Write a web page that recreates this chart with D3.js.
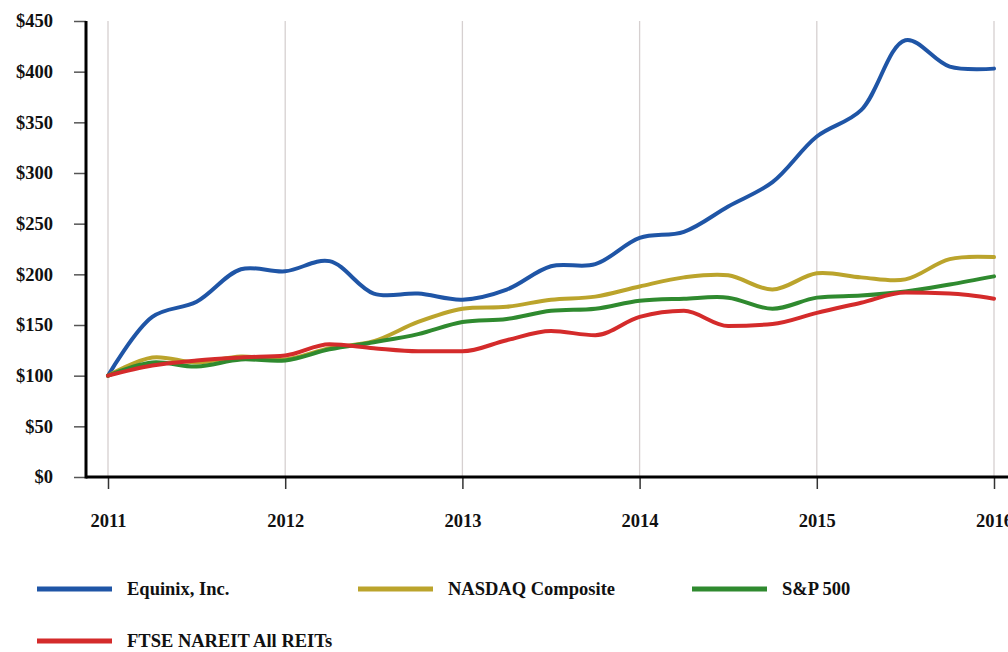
<!DOCTYPE html>
<html>
<head>
<meta charset="utf-8">
<script src="https://cdn.jsdelivr.net/npm/d3@7"></script>
<style>
  body { margin: 0; background: #fff; }
  text { font-family: "Liberation Serif", "Times New Roman", serif; font-weight: bold; fill: #111; }
</style>
</head>
<body>
<svg id="chart" width="1008" height="652"></svg>
<script>
// quarterly points, 2011.0 -> 2016.0
var quarters = d3.range(0, 21).map(function (i) { return 2011 + i / 4; });
var years = [2011, 2012, 2013, 2014, 2015, 2016];
var yTicks = [0, 50, 100, 150, 200, 250, 300, 350, 400, 450];

var equinix = [100, 158, 173, 205, 203, 213, 181, 181, 175, 185, 208, 210, 236, 242, 267, 291, 336, 362, 431, 405, 403];
var nasdaq  = [100, 118, 113, 119, 116, 127, 134, 153, 166, 168, 175, 178, 188, 197, 199, 185, 201, 197, 195, 215, 217];
var sp500   = [100, 113, 109, 116, 115, 126, 133, 141, 153, 156, 164, 166, 174, 176, 177, 166, 177, 179, 183, 190, 198];
var reits   = [100, 110, 115, 118, 120, 131, 127, 124, 124, 135, 144, 140, 158, 164, 149, 151, 162, 172, 182, 181, 176];

var series = [
  { name: 'Equinix, Inc.', values: equinix, color: '#1f55a6', curve: d3.curveCatmullRom },
  { name: 'NASDAQ Composite', values: nasdaq, color: '#bba42c', curve: d3.curveCatmullRom },
  { name: 'S&P 500', values: sp500, color: '#2f8a2f', curve: d3.curveCatmullRom },
  { name: 'FTSE NAREIT All REITs', values: reits, color: '#d42b2b', curve: d3.curveMonotoneX }
];

var svg = d3.select('#chart');

var x = d3.scaleLinear().domain([2011, 2016]).range([108, 994]);
var y = d3.scaleLinear().domain([0, 450]).range([477, 21]);

//-------------------------GRID---------------------------------------
svg.append('g').selectAll('line')
  .data(years)
  .enter()
  .append('line')
  .attr('x1', function (d) { return x(d); })
  .attr('x2', function (d) { return x(d); })
  .attr('y1', y(450))
  .attr('y2', y(0))
  .attr('stroke', '#d6d0d0')
  .attr('stroke-width', 1.3);

//-------------------------AXES---------------------------------------
var yAxis = d3.axisLeft(y)
  .tickValues(yTicks)
  .tickSize(12)
  .tickPadding(21)
  .tickFormat(function (d) { return '$' + d; });

var gy = svg.append('g').attr('transform', 'translate(86,0)').call(yAxis);
gy.select('.domain').remove();
gy.selectAll('.tick line').attr('stroke', '#555').attr('stroke-width', 1.5);
gy.selectAll('.tick text').attr('font-size', 18.5).style('font-family', '"Liberation Serif", serif');

var xAxis = d3.axisBottom(x)
  .tickValues(years)
  .tickSize(12)
  .tickPadding(25)
  .tickFormat(d3.format('d'));

var gx = svg.append('g').attr('transform', 'translate(0,477)').call(xAxis);
gx.select('.domain').remove();
gx.selectAll('.tick line').attr('stroke', '#333').attr('stroke-width', 1.5);
gx.selectAll('.tick text').attr('font-size', 18.5).style('font-family', '"Liberation Serif", serif');

// axis frame lines
svg.append('line').attr('x1', 86).attr('x2', 86).attr('y1', y(450)).attr('y2', y(0) + 1.5)
  .attr('stroke', '#000').attr('stroke-width', 3);
svg.append('line').attr('x1', 86).attr('x2', 1008).attr('y1', y(0)).attr('y2', y(0))
  .attr('stroke', '#000').attr('stroke-width', 3);

//-------------------------LINES---------------------------------------
series.forEach(function (s) {
  var line = d3.line()
    .x(function (d, i) { return x(quarters[i]); })
    .y(function (d) { return y(d); })
    .curve(s.curve);
  svg.append('path')
    .datum(s.values)
    .attr('d', line)
    .attr('fill', 'none')
    .attr('stroke', s.color)
    .attr('stroke-width', 4)
    .attr('stroke-linecap', 'round')
    .attr('stroke-linejoin', 'round');
});

//-------------------------LEGEND---------------------------------------
var legendPos = [[37, 589], [358, 589], [692, 589], [37, 641]];

var legend = svg.append('g').selectAll('g')
  .data(series)
  .enter()
  .append('g')
  .attr('transform', function (d, i) { return 'translate(' + legendPos[i][0] + ',' + legendPos[i][1] + ')'; });

legend.append('line')
  .attr('x1', 0).attr('x2', 75)
  .attr('stroke', function (d) { return d.color; })
  .attr('stroke-width', 5);

legend.append('text')
  .attr('x', 90)
  .attr('y', 6)
  .attr('font-size', 18.5)
  .text(function (d) { return d.name; });
</script>
</body>
</html>
